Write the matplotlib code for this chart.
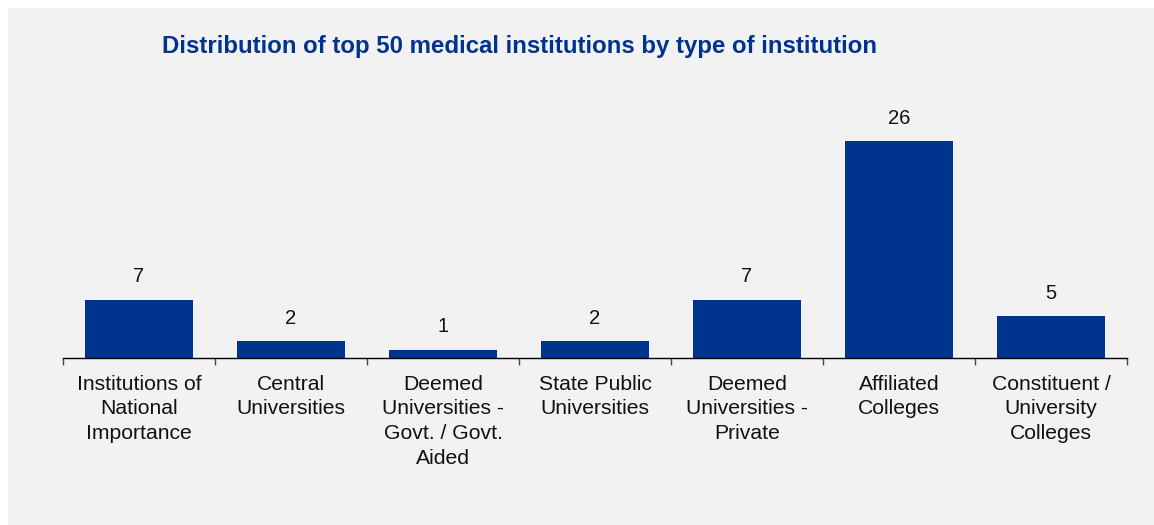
import matplotlib.pyplot as plt
from matplotlib.patches import Rectangle

plt.rcParams['font.family'] = ['Liberation Sans', 'DejaVu Sans']

categories = [
    "Institutions of\nNational\nImportance",
    "Central\nUniversities",
    "Deemed\nUniversities -\nGovt. / Govt.\nAided",
    "State Public\nUniversities",
    "Deemed\nUniversities -\nPrivate",
    "Affiliated\nColleges",
    "Constituent /\nUniversity\nColleges",
]
counts = [7, 2, 1, 2, 7, 26, 5]

W, H = 1154, 525
fig = plt.figure(figsize=(W / 100, H / 100), dpi=100, facecolor='white')

# grey panel behind everything, leaving a thin white margin top/left
fig.patches.append(Rectangle((8 / W, 0), 1 - 8 / W, 1 - 8 / H,
                             transform=fig.transFigure, facecolor='#f2f2f2',
                             edgecolor='none', zorder=-10))

ax = fig.add_axes([63 / W, (H - 358) / H, (1127 - 63) / W, 250 / H])
ax.set_facecolor('none')

x = list(range(len(categories)))
bars = ax.bar(x, counts, width=0.71, color='#00338d', zorder=2)

for xi, v in zip(x, counts):
    ax.text(xi, v + 1.65, str(v), ha='center', va='bottom', fontsize=14.5, color='#111111')

ax.set_xlim(-0.5, len(categories) - 0.5)
ax.set_ylim(0, 30)
ax.set_yticks([])
for side in ['top', 'right', 'left']:
    ax.spines[side].set_visible(False)
ax.spines['bottom'].set_color('black')
ax.spines['bottom'].set_linewidth(1.0)

# category labels between boundary ticks
ax.set_xticks(x)
ax.set_xticklabels(categories, fontsize=15.2, color='#111111', linespacing=1.38)
ax.tick_params(axis='x', which='major', length=0, pad=12)
ax.set_xticks([i - 0.5 for i in range(len(categories) + 1)], minor=True)
ax.tick_params(axis='x', which='minor', length=5, width=1, color='#444444')

fig.text(162 / W, 1 - 46 / H, "Distribution of top 50 medical institutions by type of institution",
         ha='left', va='center', fontsize=17.3, fontweight='bold', color='#00338d')

fig.savefig('out.png', dpi=100, facecolor='white')
